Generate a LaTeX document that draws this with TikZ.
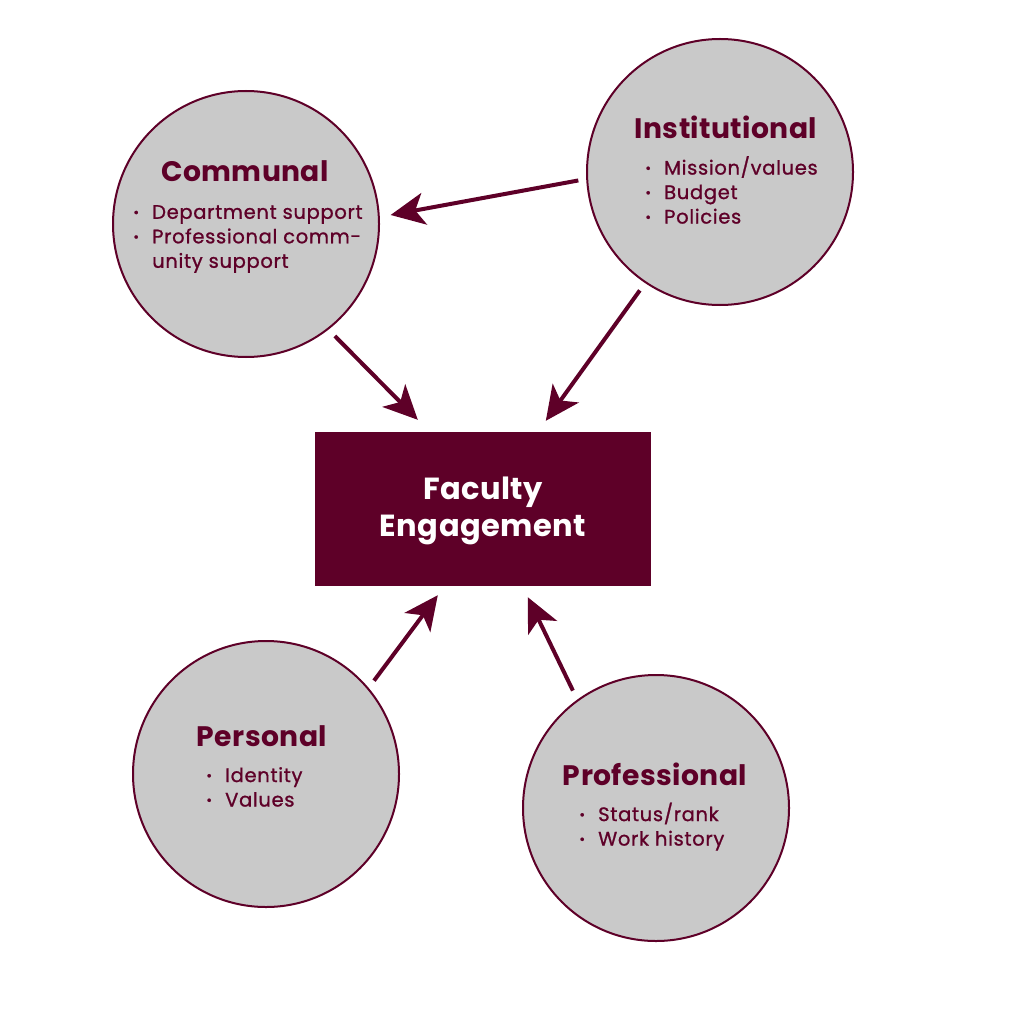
\documentclass[tikz,border=0pt]{standalone}
\usepackage{fontspec}
\setmainfont{Poppins}
\newfontfamily\medfont{Poppins}[FakeBold=1.0,LetterSpace=3.5]
\newfontfamily\headfont{Poppins}[LetterSpace=1.5]
\usetikzlibrary{arrows.meta,calc}
\definecolor{maroon}{HTML}{5E0028}
\definecolor{circgray}{HTML}{C9C9C9}
\tikzset{
  factor/.style={circle,draw=maroon,line width=2pt,fill=circgray,minimum size=266pt,inner sep=0pt},
  title/.style={text=maroon,font=\headfont\fontsize{28.2}{32}\selectfont\bfseries,inner sep=0pt},
  items/.style={text=maroon,font=\medfont\fontsize{19.5}{24.5}\selectfont,align=left,anchor=north west,inner sep=0pt},
  arr/.style={draw=maroon,line width=4pt,-{Stealth[length=34pt,width=32pt,inset=9pt]}},
}
\newcommand{\bul}{\makebox[0pt][c]{\raisebox{0.15ex}{\fontsize{14}{14}\selectfont•}}\hspace*{16pt}}
\begin{document}
\begin{tikzpicture}[x=1pt,y=-1pt]
\useasboundingbox (0,0) rectangle (1024,1024);
\fill[white] (0,0) rectangle (1024,1024);
% circles
\node[factor] (comm) at (246,224) {};
\node[factor] (inst) at (720,172) {};
\node[factor] (pers) at (266,774) {};
\node[factor] (prof) at (656,808) {};
% central box
\node[fill=maroon,minimum width=336pt,minimum height=154pt,inner sep=0pt] (fe) at (483,509) {};
\node[text=white,font=\headfont\fontsize{30.5}{37}\selectfont\bfseries,align=center,inner sep=0pt]
      (feT) at (483,510.5) {Faculty\\Engagement};
% titles
\node[title] (commT) at (245,171) {Communal};
\node[title] (instT) at (726,127) {Institutional};
\node[title] (persT) at (262,736) {Personal};
\node[title] (profT) at (655,774) {Professional};
% item lists
\node[items] (commL) at (136,205) {\bul Department support\\\bul Professional comm-\\\hspace*{16pt}unity support};
\node[items] (instL) at (648,156) {\bul Mission/values\\\bul Budget\\\bul Policies};
\node[items] (persL) at (209,767) {\bul Identity\\\bul Values};
\node[items] (profL) at (582,802.5) {\bul Status/rank\\\bul Work history};
% connectors
\draw[arr,shorten <=8pt,shorten >=11pt] (inst.183) -- (comm.3);
\draw[arr,shorten <=9pt] (comm.308) -- ($(fe.north west)+(103,-12)$);
\draw[arr,shorten <=9pt] (inst.236) -- ($(fe.north west)+(231,-11)$);
\draw[arr,shorten <=9pt] (pers.40) -- ($(fe.south west)+(123,9)$);
\draw[arr,shorten <=10pt] (prof.126) -- ($(fe.south west)+(213,11)$);
\end{tikzpicture}
\end{document}
